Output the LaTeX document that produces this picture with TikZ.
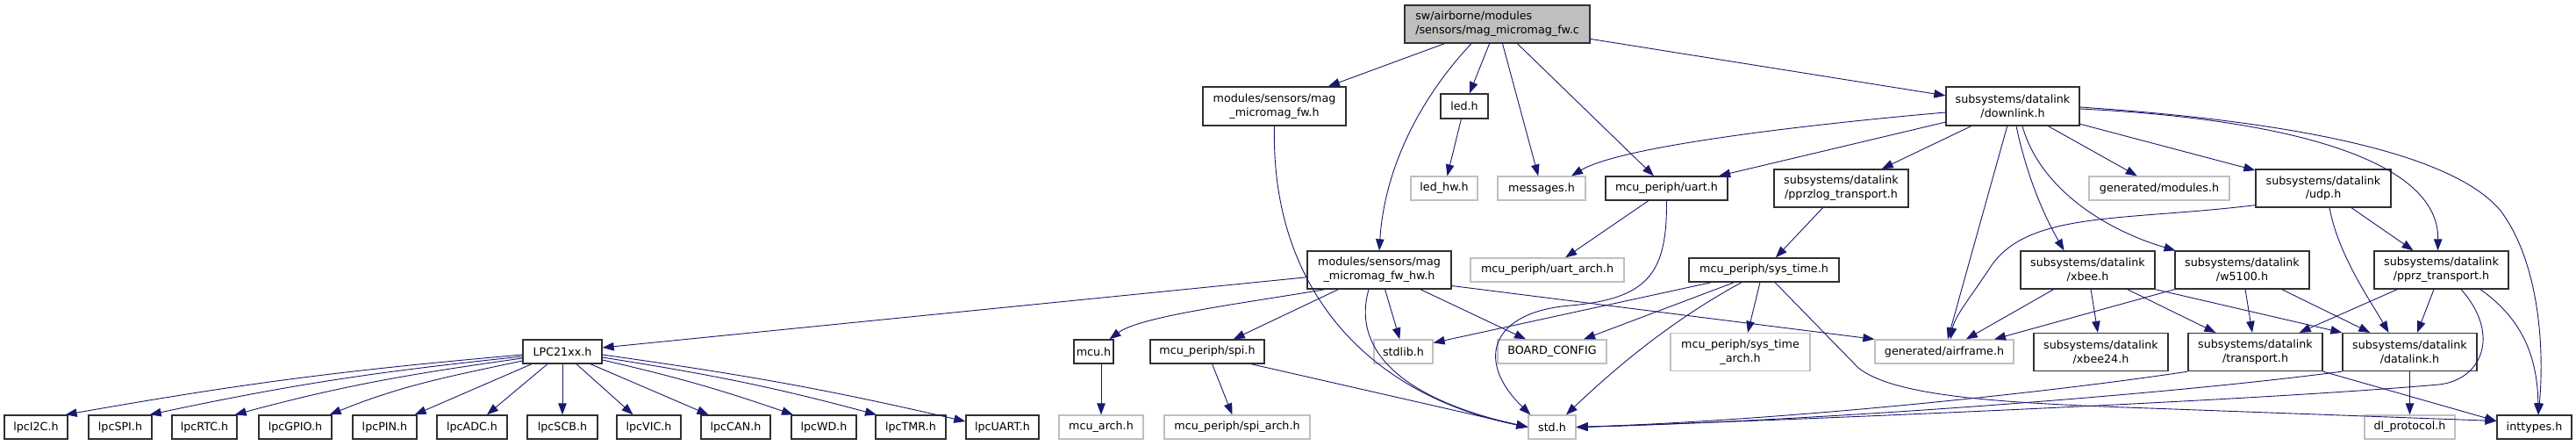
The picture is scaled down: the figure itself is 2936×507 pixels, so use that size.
\documentclass[tikz,border=0pt]{standalone}
\usepackage{fontspec}
\setmainfont{DejaVu Sans}
\usetikzlibrary{arrows.meta}
\definecolor{dlink}{HTML}{191970}
\definecolor{gborder}{HTML}{BFBFBF}
\definecolor{rootfill}{HTML}{BFBFBF}
\definecolor{bborder}{HTML}{303030}
\tikzset{
  hdr/.style={draw=bborder, fill=white, line width=1.3pt, rectangle, inner sep=0pt, align=center,
    font=\fontsize{12.7}{15.7}\selectfont},
  ext/.style={hdr, draw=gborder},
  root/.style={hdr, fill=rootfill, align=left},
  dep/.style={draw=dlink, line width=0.9pt, -{Triangle[length=13pt,width=9.5pt]}},
}
\newcommand{\bx}[6]{\node[#1, minimum width=#4pt, minimum height=#5pt] (#2) at (#3) {#6};}
\begin{document}
\begin{tikzpicture}[x=1pt,y=-1pt]
\fill[white] (0,0) rectangle (2936,507);
\useasboundingbox (0,0) rectangle (2936,507);
% row 0
\bx{root}{top}{1706.5,27.5}{211}{43}{sw/airborne/modules\\/sensors/mag\_micromag\_fw.c}
% row 1
\bx{hdr}{fwh}{1452.5,121}{163}{44}{modules/sensors/mag\\\_micromag\_fw.h}
\bx{hdr}{led}{1669,121}{54}{28}{led.h}
\bx{hdr}{downlink}{2294,121}{152}{44}{subsystems/datalink\\/downlink.h}
% row 2
\bx{ext}{ledhw}{1646,214.5}{76}{27}{led\_hw.h}
\bx{ext}{messages}{1757,214.5}{100}{27}{messages.h}
\bx{hdr}{uart}{1899.5,214.5}{139}{27}{mcu\_periph/uart.h}
\bx{hdr}{pprzlog}{2098.5,214.5}{153}{43}{subsystems/datalink\\/pprzlog\_transport.h}
\bx{ext}{modgen}{2461,214.5}{160}{27}{generated/modules.h}
\bx{hdr}{udp}{2648,214.5}{154}{43}{subsystems/datalink\\/udp.h}
% row 3
\bx{hdr}{hw}{1572,307.5}{164}{43}{modules/sensors/mag\\\_micromag\_fw\_hw.h}
\bx{ext}{uartarch}{1763.5,307.5}{175}{27}{mcu\_periph/uart\_arch.h}
\bx{hdr}{systime}{2010.5,307.5}{171}{27}{mcu\_periph/sys\_time.h}
\bx{hdr}{xbee}{2379.5,307.5}{153}{43}{subsystems/datalink\\/xbee.h}
\bx{hdr}{wfive}{2555.5,307.5}{153}{43}{subsystems/datalink\\/w5100.h}
\bx{hdr}{pprz}{2782.5,307.5}{153}{43}{subsystems/datalink\\/pprz\_transport.h}
% row 4
\bx{hdr}{lpc}{641,400.5}{90}{27}{LPC21xx.h}
\bx{hdr}{mcu}{1246.5,400.5}{45}{27}{mcu.h}
\bx{hdr}{spi}{1376,400.5}{130}{27}{mcu\_periph/spi.h}
\bx{ext}{stdlib}{1599.5,400.5}{67}{27}{stdlib.h}
\bx{ext}{board}{1769,400.5}{124}{27}{BOARD\_CONFIG}
\bx{ext}{systimearch}{1983.5,401}{159}{43}{mcu\_periph/sys\_time\\\_arch.h}
\bx{ext}{airframe}{2216,400.5}{158}{27}{generated/airframe.h}
\bx{hdr}{xbeetf}{2394.5,401}{153}{43}{subsystems/datalink\\/xbee24.h}
\bx{hdr}{transport}{2570.5,401}{153}{43}{subsystems/datalink\\/transport.h}
\bx{hdr}{datalink}{2746.5,401}{153}{43}{subsystems/datalink\\/datalink.h}
% row 5
\bx{hdr}{lpcI}{41,486.5}{72}{27}{lpcI2C.h}
\bx{hdr}{lpcSPI}{137,486.5}{72}{27}{lpcSPI.h}
\bx{hdr}{lpcRTC}{233,486.5}{74}{27}{lpcRTC.h}
\bx{hdr}{lpcGPIO}{336.5,486.5}{83}{27}{lpcGPIO.h}
\bx{hdr}{lpcPIN}{438.5,486.5}{73}{27}{lpcPIN.h}
\bx{hdr}{lpcADC}{538,486.5}{80}{27}{lpcADC.h}
\bx{hdr}{lpcSCB}{641,486.5}{80}{27}{lpcSCB.h}
\bx{hdr}{lpcVIC}{739.5,486.5}{73}{27}{lpcVIC.h}
\bx{hdr}{lpcCAN}{838.5,486.5}{79}{27}{lpcCAN.h}
\bx{hdr}{lpcWD}{939,486.5}{74}{27}{lpcWD.h}
\bx{hdr}{lpcTMR}{1038,486.5}{80}{27}{lpcTMR.h}
\bx{hdr}{lpcUART}{1142.5,486.5}{83}{27}{lpcUART.h}
\bx{ext}{mcuarch}{1255,486.5}{96}{27}{mcu\_arch.h}
\bx{ext}{spiarch}{1410,486.5}{166}{27}{mcu\_periph/spi\_arch.h}
\bx{ext}{std}{1769,486.5}{54}{27}{std.h}
\bx{ext}{dlprotocol}{2746.5,486.5}{103}{27}{dl\_protocol.h}
\bx{hdr}{inttypes}{2888.5,486.5}{85}{27}{inttypes.h}
% edges from root
\draw[dep] (top) -- (fwh);
\draw[dep] ([xshift=-29.5pt]top.south) .. controls (1620,110) and (1578,190) .. (hw.north);
\draw[dep] (top) -- (led);
\draw[dep] (top) -- (messages);
\draw[dep] (top) -- (uart);
\draw[dep] (top) -- (downlink);
% fw.h
\draw[dep] (fwh.south) .. controls (1448,330) and (1560,450) .. (std.west);
\draw[dep] (led) -- (ledhw);
% downlink
\draw[dep] ([yshift=-7pt]downlink.west) .. controls (2080,140) and (1850,165) .. ([xshift=34pt]messages.north);
\draw[dep] (downlink) -- (uart);
\draw[dep] (downlink) -- (pprzlog);
\draw[dep] (downlink) -- (airframe);
\draw[dep] ([xshift=4pt]downlink.south) .. controls (2312,210) and (2335,255) .. ([xshift=-27pt]xbee.north);
\draw[dep] ([xshift=11pt]downlink.south) .. controls (2325,215) and (2400,262) .. ([xshift=-76pt]wfive.north);
\draw[dep] (downlink) -- (modgen);
\draw[dep] (downlink) -- (udp);
\draw[dep] ([yshift=-3pt]downlink.east) .. controls (2600,135) and (2780,180) .. ([xshift=-4pt]pprz.north);
\draw[dep] ([yshift=-1pt]downlink.east) .. controls (2640,140) and (2800,180) .. (2850,240) .. controls (2895,300) and (2900,400) .. ([xshift=4.5pt]inttypes.north);
% udp
\draw[dep] ([yshift=3pt]udp.south west) .. controls (2420,252) and (2310,240) .. (2268,305) .. controls (2245,340) and (2228,360) .. ([xshift=7pt]airframe.north);
\draw[dep] ([xshift=7pt]udp.south) .. controls (2665,290) and (2700,340) .. ([xshift=-24pt]datalink.north);
\draw[dep] (udp) -- (pprz);
% pprzlog, uart
\draw[dep] (pprzlog) -- (systime);
\draw[dep] (uart) -- (uartarch);
\draw[dep] (uart.south) .. controls (1900,310) and (1880,340) .. (1790,348) .. controls (1700,355) and (1680,410) .. ([xshift=3pt]std.north west);
% hw
\draw[dep] (hw) -- (lpc);
\draw[dep] ([xshift=-62pt]hw.south) .. controls (1420,345) and (1300,360) .. ([xshift=18pt]mcu.north);
\draw[dep] (hw) -- (spi);
\draw[dep] ([xshift=-12pt]hw.south) .. controls (1540,400) and (1600,455) .. (std.west);
\draw[dep] (hw) -- (stdlib);
\draw[dep] (hw) -- (board);
\draw[dep] ([yshift=-18pt]hw.east) -- (airframe.north west);
% LPC21xx
\draw[dep] ([yshift=-3.5pt]lpc.west) to[out=185,in=10] ([xshift=-3pt]lpcI.north east);
\draw[dep] ([yshift=-5.5pt]lpc.west) to[out=186,in=12] ([xshift=-3pt]lpcSPI.north east);
\draw[dep] ([yshift=-7.5pt]lpc.west) to[out=188,in=15] ([xshift=-3pt]lpcRTC.north east);
\draw[dep] ([yshift=-10.5pt]lpc.west) to[out=192,in=22] ([xshift=-3pt]lpcGPIO.north east);
\draw[dep] ([xshift=-35pt]lpc.south) -- ([xshift=-3pt]lpcPIN.north east);
\draw[dep] ([xshift=-17pt]lpc.south) -- ([xshift=17pt]lpcADC.north);
\draw[dep] (lpc) -- (lpcSCB);
\draw[dep] ([xshift=16pt]lpc.south) -- ([xshift=-18pt]lpcVIC.north);
\draw[dep] ([xshift=32pt]lpc.south) -- ([xshift=-31pt]lpcCAN.north);
\draw[dep] ([yshift=-9.5pt]lpc.east) to[out=-13,in=161] ([xshift=-35pt]lpcWD.north);
\draw[dep] ([yshift=-6.5pt]lpc.east) to[out=-9,in=165] ([xshift=-39pt]lpcTMR.north);
\draw[dep] ([yshift=-3.5pt]lpc.east) to[out=-8,in=167] ([yshift=6.5pt]lpcUART.west);
% mcu, spi
\draw[dep] ([xshift=8.5pt]mcu.south) -- (mcuarch.north);
\draw[dep] (spi) -- (spiarch);
\draw[dep] ([xshift=50pt]spi.south) -- (std.west);
% sys_time
\draw[dep] ([xshift=-60pt]systime.south) -- ([yshift=10pt]stdlib.east);
\draw[dep] ([xshift=-34pt]systime.south) -- ([xshift=36pt]board.north);
\draw[dep] ([xshift=-25.5pt]systime.south) .. controls (1905,365) and (1840,420) .. ([xshift=16pt]std.north);
\draw[dep] ([xshift=-4.5pt]systime.south) -- ([xshift=8.5pt]systimearch.north);
\draw[dep] ([xshift=12.5pt]systime.south) -- (2118,419) .. controls (2160,452) and (2280,459) .. (2450,465) -- ([yshift=7pt]inttypes.west);
% xbee, w5100
\draw[dep] (xbee) -- (airframe);
\draw[dep] (xbee) -- (xbeetf);
\draw[dep] (xbee) -- (transport);
\draw[dep] (xbee.south east) -- (datalink.north west);
\draw[dep] (wfive.south west) -- ([xshift=57pt]airframe.north);
\draw[dep] (wfive) -- (transport);
\draw[dep] (wfive) -- (datalink);
% pprz_transport
\draw[dep] (pprz) -- (transport);
\draw[dep] (pprz) -- (datalink);
\draw[dep] ([xshift=22.5pt]pprz.south) .. controls (2850,380) and (2830,432) .. (2780,438) .. controls (2550,458) and (2000,480) .. (std.east);
\draw[dep] ([xshift=44.5pt]pprz.south) .. controls (2870,360) and (2892,400) .. ([xshift=4.5pt]inttypes.north);
% transport, datalink
\draw[dep] (transport.south west) .. controls (2350,445) and (2050,478) .. (std.east);
\draw[dep] (transport.south east) -- ([yshift=7pt]inttypes.west);
\draw[dep] (datalink.south west) .. controls (2450,452) and (2050,480) .. (std.east);
\draw[dep] (datalink) -- (dlprotocol);
\end{tikzpicture}
\end{document}
